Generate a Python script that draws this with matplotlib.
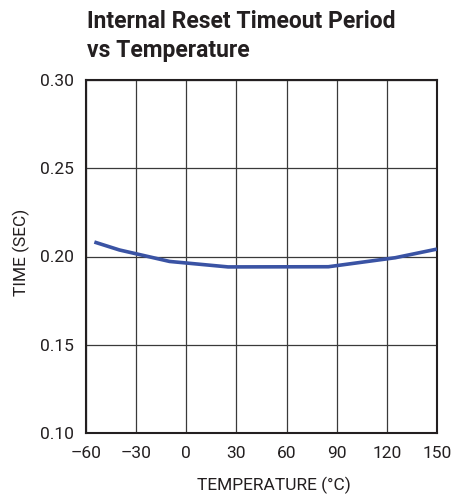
import matplotlib
matplotlib.use("Agg")
import matplotlib.pyplot as plt

temps = [-55, -40, -10, 25, 85, 125, 150]
times = [0.2082, 0.2037, 0.1972, 0.1941, 0.1942, 0.1993, 0.2042]
xticks = [-60, -30, 0, 30, 60, 90, 120, 150]
xticklabels = ["\u201360", "\u201330", "0", "30", "60", "90", "120", "150"]
yticks = [0.10, 0.15, 0.20, 0.25, 0.30]
yticklabels = ["0.10", "0.15", "0.20", "0.25", "0.30"]
title_lines = ["Internal Reset Timeout Period", "vs Temperature"]

plt.rcParams['font.family'] = ['Roboto', 'DejaVu Sans']

fig = plt.figure(figsize=(4.52, 4.96), dpi=100)
ax = fig.add_axes([86/452, 1 - 433/496, 351/452, 353/496])
ax.plot(temps, times, color="#3a53a4", lw=2.6, solid_capstyle="butt", zorder=3)
ax.set_xlim(-60, 150)
ax.set_ylim(0.10, 0.30)
ax.set_xticks(xticks)
ax.set_xticklabels(xticklabels)
ax.set_yticks(yticks)
ax.set_yticklabels(yticklabels)
ax.tick_params(length=0, labelsize=12.5, pad=9, colors="#231f20")
ax.grid(True, color="#3a3a3a", lw=0.9)
for s in ax.spines.values():
    s.set_linewidth(1.5)
    s.set_color("#231f20")
ax.set_xlabel("TEMPERATURE (\u00b0C)", fontsize=12.5, color="#231f20")
ax.set_ylabel("TIME (SEC)", fontsize=12.5, color="#231f20")
ax.xaxis.set_label_coords(0.536, -0.125)
ax.yaxis.set_label_coords(-0.16, 0.513)
for line, ybase in zip(title_lines, [28, 57]):
    fig.text(87/452, 1 - ybase/496, line, fontsize=16.5, fontweight="bold",
             color="#231f20", ha="left", va="baseline")
fig.savefig("out.png", dpi=100)
